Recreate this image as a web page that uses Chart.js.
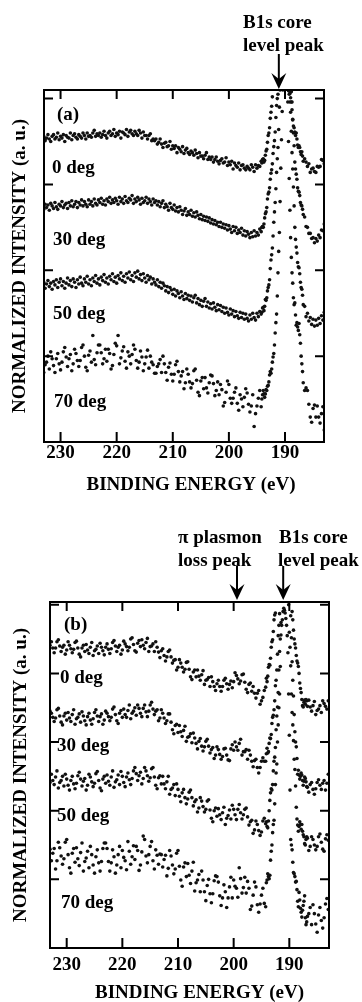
<!DOCTYPE html>
<html>
<head>
<meta charset="utf-8">
<script src="https://cdn.jsdelivr.net/npm/chart.js@4.4.1/dist/chart.umd.min.js"></script>
<style>
  html, body { margin: 0; padding: 0; background: #fff; overflow: hidden; }
  canvas { display: block; }
</style>
</head>
<body>
<canvas id="panelA" width="362" height="500"></canvas>
<canvas id="panelB" width="362" height="510"></canvas>
<script>
// binding energy grid (eV), shared by every spectrum
const energy = [
  233,232.75,232.5,232.25, 232,231.75,231.5,231.25, 231,230.75,230.5,230.25, 230,229.75,229.5,229.25,
  229,228.75,228.5,228.25, 228,227.75,227.5,227.25, 227,226.75,226.5,226.25, 226,225.75,225.5,225.25,
  225,224.75,224.5,224.25, 224,223.75,223.5,223.25, 223,222.75,222.5,222.25, 222,221.75,221.5,221.25,
  221,220.75,220.5,220.25, 220,219.75,219.5,219.25, 219,218.75,218.5,218.25, 218,217.75,217.5,217.25,
  217,216.75,216.5,216.25, 216,215.75,215.5,215.25, 215,214.75,214.5,214.25, 214,213.75,213.5,213.25,
  213,212.75,212.5,212.25, 212,211.75,211.5,211.25, 211,210.75,210.5,210.25, 210,209.75,209.5,209.25,
  209,208.75,208.5,208.25, 208,207.75,207.5,207.25, 207,206.75,206.5,206.25, 206,205.75,205.5,205.25,
  205,204.75,204.5,204.25, 204,203.75,203.5,203.25, 203,202.75,202.5,202.25, 202,201.75,201.5,201.25,
  201,200.75,200.5,200.25, 200,199.75,199.5,199.25, 199,198.75,198.5,198.25, 198,197.75,197.5,197.25,
  197,196.75,196.5,196.25, 196,195.75,195.5,195.25, 195,194.75,194.5,194.25, 194,193.75,193.5,193.25,
  193,192.75,192.5,192.25, 192,191.75,191.5,191.25, 191,190.75,190.5,190.25, 190,189.75,189.5,189.25,
  189,188.75,188.5,188.25, 188,187.75,187.5,187.25, 187,186.75,186.5,186.25, 186,185.75,185.5,185.25,
  185,184.75,184.5,184.25, 184,183.75,183.5,183.25, 183
];
// extra readings taken between grid points across the B1s peak
const peakEnergy = [
  194.125,193.875,193.625,193.375,193.125,192.875,192.625,192.375,192.125,191.875,
  191.625,191.375,191.125,190.875,190.625,190.375,190.125,189.875,189.625,189.375,
  189.125,188.875,188.625,188.375,188.125,187.875,187.625,187.375,187.125,186.875
];
const xTicks = [230, 220, 210, 200, 190];
const aYTicks = [100, 200, 300, 400];
const bYTicks = [100, 200, 300, 400, 500];

// panel (a), normalized intensity (a.u., offset spectra)
const a0deg = [
  356,351,354,358, 353,350,356,358, 353,355,360,352, 356,354,358,350, 357,355,354,360,
  352,357,359,355, 353,358,356,354, 360,357,353,360, 356,357,355,360, 363,356,359,357,
  360,355,358,362, 357,354,360,362, 357,359,364,356, 360,358,362,354, 361,360,358,364,
  356,361,363,359, 357,362,359,357, 363,360,354,361, 357,357,353,357, 359,351,353,351,
  353,347,349,353, 347,343,348,349, 344,345,350,341, 345,342,345,337, 343,341,338,344,
  336,340,342,337, 335,339,337,334, 340,336,331,337, 333,333,330,334, 337,329,332,329,
  332,326,329,332, 327,324,328,330, 325,326,331,322, 326,323,327,318, 325,322,320,325,
  317,322,323,319, 317,321,319,317, 323,320,315,323, 319,322,321,327, 329,326,334,341,
  357,366,384,402, 420,445,480,520, 560,600,620,600, 560,500,450,415, 401,387,368,361,
  360,346,345,338, 338,327,330,326, 321,324,314,318, 319,315,314,321, 320,321,329,328,
  324
];
const a30deg = [
  271,277,273,276, 270,278,275,272, 279,274,271,277, 275,280,273,276, 278,272,279,275,
  281,274,277,280, 273,279,276,282, 275,280,277,274, 282,277,280,275, 283,278,276,282,
  279,284,277,281, 276,283,280,285, 278,282,279,284, 281,277,285,280, 283,278,286,281,
  279,284,282,287, 278,283,280,285, 282,277,284,279, 281,285,278,283, 280,276,283,279,
  281,276,280,274, 278,281,273,277, 274,270,278,273, 271,276,269,273, 268,274,270,265,
  269,272,264,268, 265,270,263,267, 262,268,264,260, 265,259,263,258, 262,257,261,255,
  259,254,258,253, 256,251,256,250, 254,249,253,247, 252,248,244,251, 246,250,243,247,
  244,249,241,246, 240,245,242,238, 244,239,246,240, 244,241,248,245, 251,254,266,273,
  289,296,313,324, 344,361,392,405, 430,500,560,600, 580,520,470,435, 415,396,360,326,
  312,296,291,279, 275,265,262,251, 250,243,243,237, 238,232,237,234, 241,238,247,246,
  254
];
const a50deg = [
  186,179,184,188, 181,185,178,187, 183,189,180,186, 190,182,187,179, 185,191,183,188,
  181,190,186,180, 189,184,192,185, 182,190,186,193, 184,189,182,191, 187,194,185,190,
  183,192,188,195, 186,191,184,193, 189,196,187,192, 185,194,190,197, 188,193,186,196,
  191,198,189,194, 187,197,192,199, 190,195,188,196, 191,186,194,189, 192,184,190,186,
  183,189,181,186, 179,185,182,176, 181,174,180,177, 172,178,170,176, 173,168,175,170,
  166,173,167,171, 165,170,163,168, 171,162,167,160, 165,158,164,167, 158,163,156,161,
  155,162,157,153, 160,154,159,152, 157,150,156,151, 148,155,149,153, 146,152,147,144,
  151,145,150,143, 149,144,141,148, 143,150,145,142, 150,146,152,149, 156,153,166,168,
  180,189,212,226, 256,279,314,343, 390,430,480,500, 480,440,415,405, 384,337,297,250,
  227,209,203,186, 178,160,158,146, 150,141,145,137, 143,135,142,136, 144,138,147,142,
  151
];
const a70deg = [
  81,90,93,100, 85,105,97,89, 81,97,103,91, 84,93,105,110, 99,88,97,102,
  83,91,108,103, 95,88,95,110, 113,100,87,83, 101,106,93,124, 96,90,104,113,
  113,104,91,97, 108,94,108,103, 85,89,102,115, 112,124,91,98, 106,111,94,86,
  105,100,91,102, 113,108,95,86, 93,106,99,83, 91,99,107,86, 100,93,90,80,
  80,88,91,96, 81,100,91,81, 72,87,92,79, 71,79,90,94, 82,70,77,82,
  62,69,85,79, 70,63,68,83, 85,72,58,54, 71,75,62,75, 63,57,69,78,
  77,68,54,60, 70,55,67,61, 42,46,58,71, 67,51,45,51, 58,63,45,37,
  55,50,41,52, 62,57,44,35, 42,55,18,33, 42,51,60,41, 55,56,56,60,
  66,78,80,93, 103,127,149,197, 244,319,385,430, 460,430,396,307, 238,197,168,162,
  136,134,138,115, 91,69,60,63, 60,44,29,23, 39,43,29,42, 29,22,33,41,
  14
];
const a0degPeak = [325,330,328,339,349,360,377,391,411,432, 462,500,540,580,610,610,580,530,475,430, 406,396,375,366,357,353,343,343,335,333];
const a30degPeak = [250,250,261,268,283,291,306,317,336,351, 378,400,416,460,530,580,590,550,495,452, 424,408,376,345,318,306,292,287,276,271];
const a50degPeak = [151,157,158,165,176,183,202,218,240,268, 295,330,364,410,455,490,490,460,428,409, 396,362,318,275,236,220,204,196,180,171];
const a70degPeak = [50,60,52,61,65,70,82,85,99,113, 139,170,222,280,352,410,445,448,415,350, 270,215,185,160,148,139,130,125,100,82];

// panel (b)
const b0deg = [
  441,446,437,430, 437,446,449,440, 432,438,441,428, 434,446,441,436, 430,435,445,447,
  437,428,424,437, 441,432,442,434, 429,438,445,426, 433,435,440,429, 444,438,433,427,
  438,443,435,429, 436,445,448,440, 432,438,441,428, 434,447,443,439, 433,438,450,452,
  442,433,431,444, 448,439,449,441, 436,445,451,432, 439,440,443,432, 446,438,431,423,
  433,436,426,418, 424,432,434,424, 415,419,420,405, 409,420,415,409, 402,406,416,417,
  406,395,391,402, 405,395,405,396, 390,398,404,384, 390,391,394,381, 395,388,381,375,
  385,390,381,374, 381,390,393,385, 377,384,389,379, 388,401,397,392, 385,389,398,399,
  387,377,372,384, 386,374,381,371, 364,371,375,355, 360,365,375,380, 388,409,412,438,
  449,478,488,530, 560,600,640,660, 670,660,640,620, 580,540,490,463, 443,426,415,400,
  378,362,351,361, 362,352,361,351, 345,353,359,340, 346,348,353,343, 360,356,352,348,
  360
];
const b30deg = [
  345,342,336,330, 335,347,349,338, 329,325,338,342, 332,343,335,330, 340,347,326,334,
  336,341,329,344, 338,331,325,337, 342,332,326,334, 343,347,338,330, 337,341,326,332,
  345,342,337,331, 336,348,351,340, 331,327,342,346, 336,348,340,336, 346,354,334,342,
  345,350,339,354, 349,342,337,349, 354,344,337,345, 354,358,348,340, 345,347,331,335,
  347,342,335,327, 331,341,341,329, 318,312,324,326, 314,324,315,308, 317,323,301,307,
  308,312,299,313, 306,298,290,301, 305,294,287,293, 301,304,294,284, 289,292,276,281,
  293,289,282,275, 279,290,291,281, 274,273,290,296, 288,300,293,288, 298,304,281,286,
  286,289,275,288, 281,272,264,273, 275,263,255,263, 272,277,272,272, 291,286,306,311,
  336,347,382,405, 455,487,540,600, 640,660,640,600, 560,484,417,367, 315,293,253,252,
  250,252,237,249, 242,234,227,238, 241,231,224,232, 241,245,237,231, 240,244,230,240,
  253
];
const b50deg = [
  241,253,244,238, 249,258,233,241, 244,250,236,253, 246,237,230,244, 250,239,232,240,
  251,256,246,236, 243,247,230,237, 253,249,242,235, 240,254,257,244, 233,229,246,250,
  240,252,243,237, 249,258,234,242, 245,252,238,257, 250,241,235,249, 255,245,238,247,
  258,263,254,244, 251,256,239,247, 263,258,251,243, 248,261,263,249, 237,232,248,251,
  239,250,239,232, 242,250,224,231, 233,238,222,239, 231,221,213,226, 231,219,210,217,
  227,230,219,207, 213,216,198,204, 219,214,206,198, 202,214,216,201, 189,184,200,204,
  192,203,194,187, 197,205,180,189, 193,201,188,208, 202,194,187,202, 209,197,188,194,
  202,204,191,179, 184,186,167,172, 185,180,171,164, 169,185,189,181, 177,185,215,232,
  238,272,292,338, 372,432,474,560, 600,580,560,540, 460,411,343,302, 260,205,179,177,
  180,180,165,152, 158,160,142,148, 162,158,150,143, 148,162,166,154, 144,141,159,165,
  157
];
const b70deg = [
  144,127,138,145, 115,127,154,146, 134,122,130,154, 158,136,117,109, 138,145,125,146,
  130,120,139,153, 112,126,131,141, 117,148,136,121, 109,133,143,124, 112,126,145,153,
  153,145,126,112, 124,143,133,109, 121,136,148,117, 142,132,127,114, 155,141,122,133,
  149,129,148,142, 113,121,140,163, 158,134,124,136, 148,155,127,115, 143,135,122,137,
  136,118,129,135, 105,116,142,134, 121,108,115,138, 142,119,99,90, 118,124,104,123,
  106,94,112,125, 83,95,99,107, 82,112,99,82, 69,91,100,79, 66,79,98,105,
  104,96,76,62, 73,92,82,59, 73,89,103,73, 99,90,87,74, 117,101,80,88,
  103,80,97,87, 56,61,77,96, 89,63,52,64, 77,87,65,60, 99,104,106,141,
  168,186,238,268, 325,370,456,478, 495,488,470,430, 310,158,143,110, 104,97,68,81,
  58,45,62,76, 34,46,50,59, 34,63,50,35, 23,48,59,40, 29,44,64,72,
  56
];
const b0degPeak = [393,396,413,422,446,461,485,505,545,580, 620,650,665,665,650,630,600,560,515,478, 450,437,418,410,386,372,353,358,355,360];
const b30degPeak = [283,284,298,305,327,339,360,390,428,470, 512,570,620,650,650,620,580,522,452,390, 340,300,276,259,246,255,244,243,247,235];
const b50degPeak = [184,175,200,226,230,258,278,318,351,405, 450,512,580,590,570,550,500,438,370,325, 275,236,188,170,184,173,170,162,150,162];
const b70degPeak = [95,108,101,128,150,180,210,255,300,350, 410,470,490,492,480,455,370,230,150,125, 108,96,85,60,70,52,55,68,44,38];

const serif = { family: '"Liberation Serif", "Times New Roman", serif', size: 19, weight: 'bold' };
Chart.defaults.font.family = serif.family;

// frame with inward ticks, labels, arrows and the energy-axis title
const paperMarks = {
  id: 'paperMarks',
  afterDraw(chart, args, opts) {
    const { ctx, chartArea: a } = chart;
    const x = chart.scales.x, y = chart.scales.y;
    ctx.save();
    ctx.strokeStyle = '#000';
    ctx.fillStyle = '#000';
    ctx.lineWidth = 2;
    ctx.strokeRect(a.left, a.top, a.right - a.left, a.bottom - a.top);
    ctx.beginPath();
    xTicks.forEach(v => {
      const px = x.getPixelForValue(v);
      ctx.moveTo(px, a.bottom); ctx.lineTo(px, a.bottom - 10);
      ctx.moveTo(px, a.top); ctx.lineTo(px, a.top + 9);
    });
    opts.yTicks.forEach(v => {
      const py = y.getPixelForValue(v);
      ctx.moveTo(a.left, py); ctx.lineTo(a.left + 9, py);
      ctx.moveTo(a.right, py); ctx.lineTo(a.right - 9, py);
    });
    ctx.stroke();

    ctx.font = `bold ${serif.size}px ${serif.family}`;
    ctx.textBaseline = 'alphabetic';
    ctx.textAlign = 'left';
    opts.texts.forEach(t => ctx.fillText(t.text, t.x, t.y));

    ctx.textAlign = 'center';
    ctx.textBaseline = 'middle';
    ctx.fillText('BINDING ENERGY (eV)', (a.left + a.right) / 2 + opts.xTitleShift, opts.xTitleY);

    opts.arrows.forEach(ar => {
      const px = x.getPixelForValue(ar.value);
      ctx.beginPath();
      ctx.moveTo(px, ar.from);
      ctx.lineTo(px, ar.tip - 8);
      ctx.stroke();
      ctx.beginPath();
      ctx.moveTo(px, ar.tip);
      ctx.lineTo(px - 7.5, ar.tip - 16);
      ctx.lineTo(px, ar.tip - 10);
      ctx.lineTo(px + 7.5, ar.tip - 16);
      ctx.closePath();
      ctx.fill();
    });
    ctx.restore();
  }
};

function dots(xs, vals) {
  return {
    data: xs.map((e, i) => ({ x: e, y: vals[i] })),
    showLine: false,
    pointRadius: 1.8,
    pointHoverRadius: 1.8,
    pointBackgroundColor: '#111',
    pointBorderWidth: 0
  };
}

function buildPanel(canvasId, series, peaks, cfg) {
  const datasets = series.map(vals => dots(energy, vals))
    .concat(peaks.map(vals => dots(peakEnergy, vals)));
  return new Chart(document.getElementById(canvasId), {
    type: 'scatter',
    data: { datasets },
    options: {
      responsive: false,
      animation: false,
      devicePixelRatio: 1,
      events: [],
      layout: { padding: { top: cfg.top, right: cfg.right, left: 0, bottom: 0 } },
      plugins: {
        legend: { display: false },
        tooltip: { enabled: false },
        paperMarks: cfg.marks
      },
      scales: {
        x: {
          type: 'linear',
          reverse: true,
          min: cfg.xMin,
          max: cfg.xMax,
          afterFit: s => { s.height = cfg.xHeight; },
          afterBuildTicks: s => { s.ticks = xTicks.map(v => ({ value: v })); },
          grid: { display: false, drawTicks: false },
          border: { display: false },
          ticks: { color: '#000', font: serif, padding: cfg.tickPad, maxRotation: 0, autoSkip: false },
          title: { display: false }
        },
        y: {
          type: 'linear',
          min: 0,
          max: cfg.yMax,
          afterFit: s => { s.width = cfg.yWidth; },
          grid: { display: false, drawTicks: false },
          border: { display: false },
          ticks: { display: false },
          title: {
            display: true, text: 'NORMALIZED INTENSITY (a. u.)', color: '#000', font: serif,
            padding: { top: cfg.yTitlePad, bottom: 0 }
          }
        }
      }
    },
    plugins: [paperMarks]
  });
}

buildPanel('panelA', [a0deg, a30deg, a50deg, a70deg], [a0degPeak, a30degPeak, a50degPeak, a70degPeak], {
  top: 90, right: 38, yWidth: 44, xHeight: 58,
  xMin: 183.05, xMax: 232.95, yMax: 410,
  tickPad: 0, yTitlePad: 9,
  marks: {
    yTicks: aYTicks,
    xTitleShift: 7, xTitleY: 485,
    texts: [
      { text: 'B1s core', x: 243, y: 28 },
      { text: 'level peak', x: 243, y: 51 },
      { text: '(a)', x: 57, y: 120 },
      { text: '0 deg', x: 52, y: 173 },
      { text: '30 deg', x: 53, y: 245 },
      { text: '50 deg', x: 53, y: 319 },
      { text: '70 deg', x: 54, y: 407 }
    ],
    arrows: [{ value: 191.1, from: 54, tip: 89 }]
  }
});

buildPanel('panelB', [b0deg, b30deg, b50deg, b70deg], [b0degPeak, b30degPeak, b50degPeak, b70degPeak], {
  top: 102, right: 33, yWidth: 50, xHeight: 62,
  xMin: 182.87, xMax: 233.0, yMax: 504,
  tickPad: 6, yTitlePad: 10,
  marks: {
    yTicks: bYTicks,
    xTitleShift: 10, xTitleY: 493,
    texts: [
      { text: '\u03c0 plasmon', x: 178, y: 43 },
      { text: 'loss peak', x: 178, y: 66 },
      { text: 'B1s core', x: 279, y: 43 },
      { text: 'level peak', x: 278, y: 66 },
      { text: '(b)', x: 64, y: 130 },
      { text: '0 deg', x: 60, y: 183 },
      { text: '30 deg', x: 57, y: 251 },
      { text: '50 deg', x: 57, y: 321 },
      { text: '70 deg', x: 61, y: 408 }
    ],
    arrows: [
      { value: 199.4, from: 66, tip: 100 },
      { value: 191.1, from: 66, tip: 100 }
    ]
  }
});
</script>
</body>
</html>
